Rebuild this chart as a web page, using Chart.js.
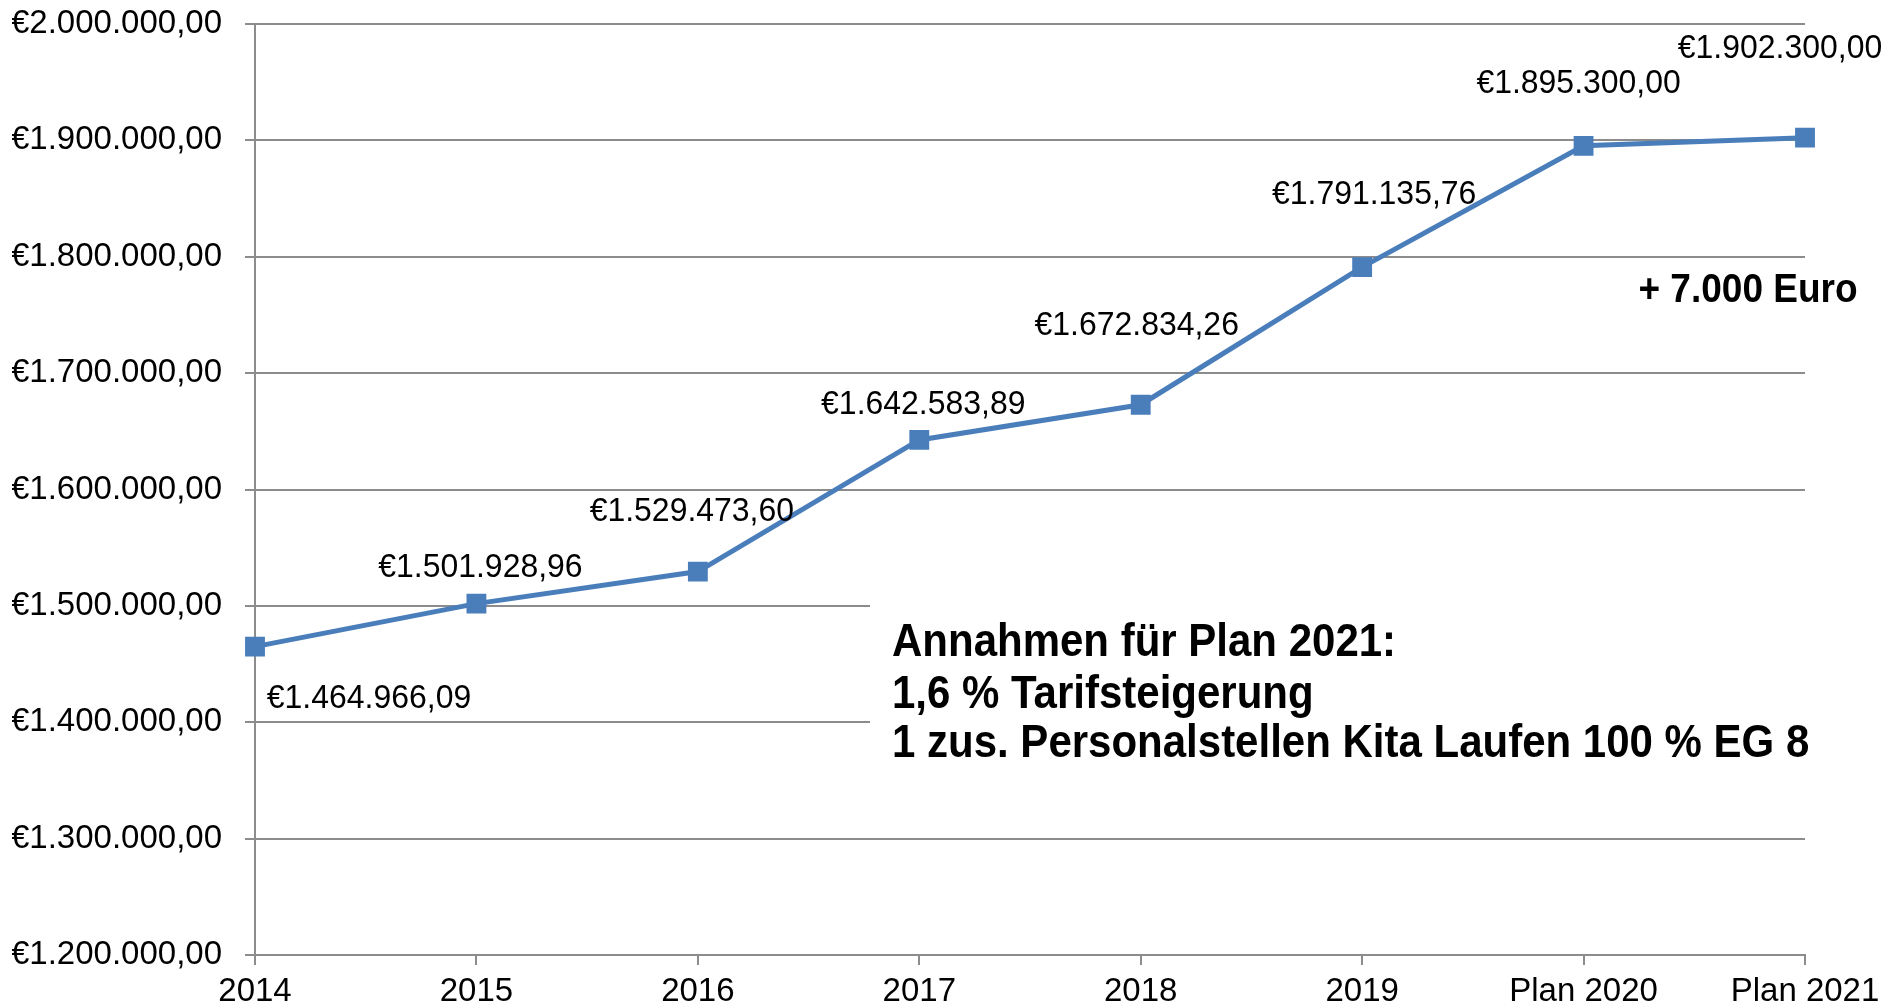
<!DOCTYPE html>
<html>
<head>
<meta charset="utf-8">
<script src="https://cdn.jsdelivr.net/npm/chart.js"></script>
<style>
  body { margin: 0; background: #fff; }
  canvas { display: block; }
</style>
</head>
<body>
<canvas id="myChart" width="1903" height="1007"></canvas>
<script>
var years = ["2014", "2015", "2016", "2017", "2018", "2019", "Plan 2020", "Plan 2021"];
var costs = [1464966.09, 1501928.96, 1529473.60, 1642583.89, 1672834.26, 1791135.76, 1895300.00, 1902300.00];
// where each value label sits, relative to its point (px)
var labelShift = [[114, 52], [4, -36], [-6, -60], [4, -35], [-4, -79], [12, -72], [-5, -62], [-25, -89]];
var noteLines = ["Annahmen für Plan 2021:", "1,6 % Tarifsteigerung", "1 zus. Personalstellen Kita Laufen 100 % EG 8"];
var diffText = "+ 7.000 Euro";

var lineBlue = "#4a7ebb";
var gridGray = "#8c8c8c";
var fam = "'Liberation Sans', Arial, sans-serif";

function euro(v) {
  var parts = v.toFixed(2).split(".");
  var whole = parts[0].replace(/\B(?=(\d{3})+(?!\d))/g, ".");
  return "€" + whole + "," + parts[1];
}

// text a bit narrower than the font, like the original
function narrowText(ctx, text, x, y, sx, align) {
  ctx.save();
  ctx.translate(x, y);
  ctx.scale(sx, 1);
  ctx.textAlign = align;
  ctx.fillText(text, 0, 0);
  ctx.restore();
}

var notes = {
  id: "notes",
  beforeDatasetsDraw: function (chart) {
    var ctx = chart.ctx;
    ctx.save();
    ctx.fillStyle = "#fff";
    ctx.fillRect(870, 585, 960, 180);
    ctx.restore();
  },
  afterDatasetsDraw: function (chart) {
    var ctx = chart.ctx;
    var pts = chart.getDatasetMeta(0).data;
    ctx.save();
    ctx.fillStyle = "#000";
    ctx.textBaseline = "middle";
    ctx.font = "34px " + fam;
    pts.forEach(function (p, i) {
      narrowText(ctx, euro(costs[i]), p.x + labelShift[i][0], p.y + labelShift[i][1], 0.94, "center");
    });
    ctx.font = "bold 40px " + fam;
    narrowText(ctx, diffText, 1748, 291, 0.925, "center");
    ctx.font = "bold 46px " + fam;
    var ys = [643, 695, 744];
    noteLines.forEach(function (t, i) {
      narrowText(ctx, t, 892, ys[i], 0.913, "left");
    });
    ctx.restore();
  }
};

new Chart("myChart", {
  type: "line",
  data: {
    labels: years,
    datasets: [{
      data: costs,
      borderColor: lineBlue,
      backgroundColor: lineBlue,
      borderWidth: 5,
      pointStyle: "rect",
      pointRadius: 10.5,
      pointHoverRadius: 10.5,
      tension: 0,
      clip: false
    }]
  },
  options: {
    responsive: false,
    animation: false,
    layout: { padding: { left: 12, right: 98, top: 24, bottom: 0 } },
    plugins: {
      legend: { display: false },
      tooltip: { enabled: false }
    },
    scales: {
      x: {
        offset: false,
        afterFit: function (s) { s.height = 52; s.paddingTop = 0; },
        grid: { display: true, drawOnChartArea: false, drawTicks: true, tickLength: 10, color: gridGray, lineWidth: 2 },
        border: { color: gridGray, width: 2 },
        ticks: {
          color: "#000",
          padding: 10,
          maxRotation: 0,
          font: { family: fam, size: 33, lineHeight: 1 }
        }
      },
      y: {
        min: 1200000,
        max: 2000000,
        afterFit: function (s) { s.width = 243; s.paddingTop = 0; s.paddingBottom = 0; },
        grid: { color: gridGray, lineWidth: 2, tickLength: 10 },
        border: { color: gridGray, width: 2 },
        ticks: {
          stepSize: 100000,
          color: "#000",
          padding: 23,
          font: { family: fam, size: 33 },
          callback: function (v) { return euro(v); }
        }
      }
    }
  },
  plugins: [notes]
});
</script>
</body>
</html>
